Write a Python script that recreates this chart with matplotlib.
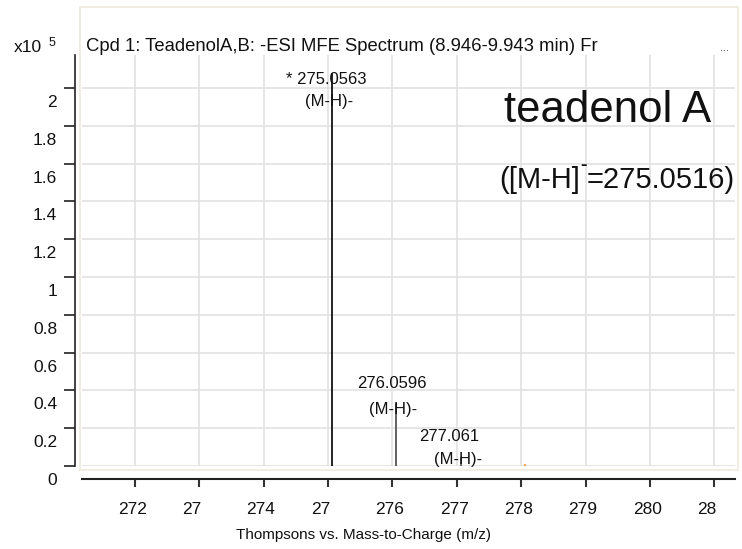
import numpy as np
import matplotlib
matplotlib.use("Agg")
import matplotlib.pyplot as plt
import matplotlib.transforms as mtransforms
from matplotlib.patches import Rectangle

plt.rcParams['font.family'] = ['Liberation Sans', 'DejaVu Sans']

## spectrum data (intensity in units of 1e5 counts)
peak_mz = [275.0563, 276.0596, 277.061]
peak_int = [2.08, 0.333, 0.05]
peak_color = ['#111111', '#555555', '#666666']
extra_mz = [278.06]
extra_int = [0.012]

x_ticks = [272, 273, 274, 275, 276, 277, 278, 279, 280, 281]
x_ticklabels = ['272', '27', '274', '27', '276', '277', '278', '279', '280', '28']
y_ticks = np.round(np.arange(0, 2.01, 0.2), 1)

title = "Cpd 1: TeadenolA,B: -ESI MFE Spectrum (8.946-9.943 min) Fr"
xlabel = "Thompsons vs. Mass-to-Charge (m/z)"
compound = "teadenol A"
ion_mass = 275.0516

W, H = 742, 549
def fx(x):
    return x / W
def fy(y):
    return 1 - y / H

fig = plt.figure(figsize=(W / 100, H / 100), dpi=100)
fig.patch.set_facecolor('white')

# light frame around the plot panel
fig.patches.append(Rectangle((fx(80), fy(470)), (738 - 80) / W, (470 - 7) / H,
                             transform=fig.transFigure, fill=False,
                             edgecolor='#efebdc', lw=1.2, zorder=0))

ax = fig.add_axes([fx(82), fy(466), (735 - 82) / W, (466 - 55) / H])
ax.set_xlim(271.18, 281.32)
ax.set_ylim(0, 2.175)

for s in ['top', 'right']:
    ax.spines[s].set_visible(False)
ax.spines['left'].set_position(('outward', 5))
ax.spines['bottom'].set_position(('outward', 9))
ax.spines['left'].set_color('#222222')
ax.spines['bottom'].set_color('#222222')
ax.spines['left'].set_linewidth(1.2)
ax.spines['bottom'].set_linewidth(1.5)

ax.grid(True, color='#e2e2e2', lw=1.2)
ax.set_axisbelow(True)

ax.set_xticks(x_ticks)
ax.set_xticklabels(x_ticklabels, ha='left')
ax.set_yticks(y_ticks)
ax.set_yticklabels([f"{v:g}" for v in y_ticks])
ax.tick_params(axis='x', direction='out', length=6, width=1.5, color='#333333',
               pad=11, labelsize=12.5, labelcolor='#111111')
ax.tick_params(axis='y', direction='out', length=8, width=1.2, color='#222222',
               pad=5, labelsize=12.5, labelcolor='#111111')

# shift tick labels like the instrument software does
xoff = mtransforms.ScaledTranslation(-17 / 100, 0, fig.dpi_scale_trans)
for lab in ax.get_xticklabels():
    lab.set_transform(lab.get_transform() + xoff)
yoff = mtransforms.ScaledTranslation(0, -13 / 100, fig.dpi_scale_trans)
for lab in ax.get_yticklabels():
    lab.set_transform(lab.get_transform() + yoff)

# peaks
ax.vlines(peak_mz, 0, peak_int, colors=peak_color, lw=1.3, zorder=3)
ax.vlines(extra_mz, 0, extra_int, colors='#f5a050', lw=1.5, zorder=3)

# peak labels: (mass line offset, ion line offset) in pixels
label_off = [((-5, -7), (-3, -29)),
             ((-4, 20), (-3, -6)),
             ((-12, 20), (-3, -3))]
for i, (mz, h) in enumerate(zip(peak_mz, peak_int)):
    txt = str(mz)
    if i == 0:
        txt = "* " + txt
    (dx1, dy1), (dx2, dy2) = label_off[i]
    ax.annotate(txt, (mz, h), xytext=(dx1, dy1), textcoords='offset pixels',
                ha='center', va='center', fontsize=12, color='#111111')
    ax.annotate("(M-H)-", (mz, h), xytext=(dx2, dy2), textcoords='offset pixels',
                ha='center', va='center', fontsize=12, color='#111111')

# header texts
fig.text(fx(86), fy(47), title, ha='left', va='center', fontsize=13.3, color='#111111')
fig.text(fx(14), fy(48), "x10", ha='left', va='center', fontsize=12.5, color='#111111')
fig.text(fx(49), fy(43), "5", ha='left', va='center', fontsize=9, color='#111111')
fig.text(fx(720), fy(48), "...", ha='left', va='center', fontsize=8, color='#333333')

# compound annotation
fig.text(fx(504), fy(111), compound, ha='left', va='center', fontsize=31.5, color='#111111')

# ion formula with a short superscript charge sign, laid out piece by piece
renderer = fig.canvas.get_renderer()
t1 = fig.text(fx(499), fy(180), "([M-H]", ha='left', va='center', fontsize=21, color='#111111')
x1 = t1.get_window_extent(renderer).x1
t2 = fig.text(x1 / W, fy(166), "-", ha='left', va='center', fontsize=14,
              color='#111111', fontweight='bold')
x2 = t2.get_window_extent(renderer).x1
fig.text(x2 / W, fy(180), f"={ion_mass})", ha='left', va='center', fontsize=21,
         color='#111111')

fig.text(fx(363), fy(535), xlabel, ha='center', va='center', fontsize=11, color='#111111')

fig.savefig("out.png", dpi=100)
